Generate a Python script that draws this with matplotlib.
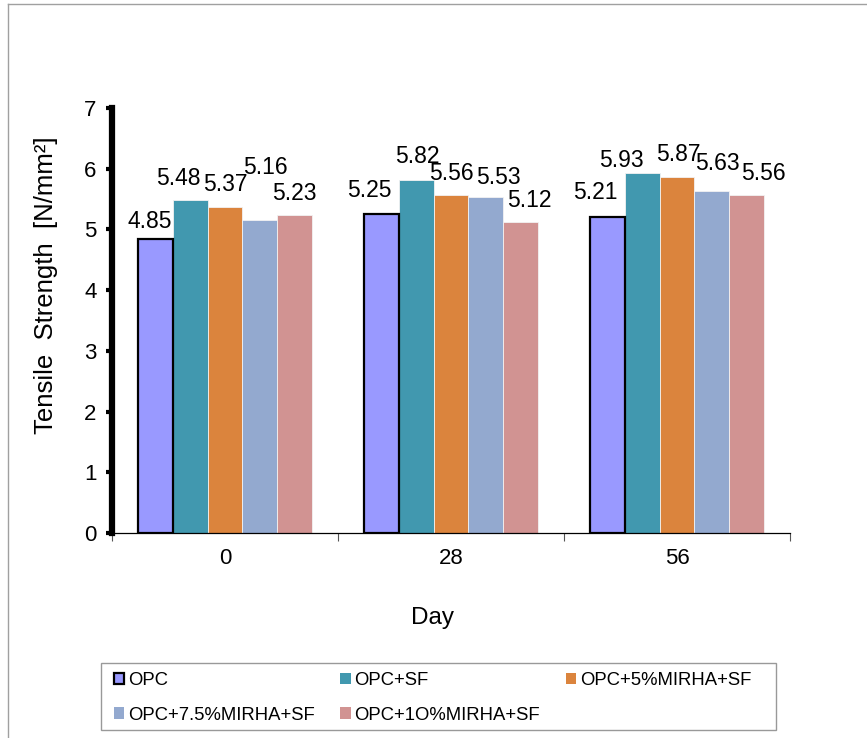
import matplotlib
matplotlib.use("Agg")
import matplotlib.pyplot as plt
from matplotlib.patches import Patch, Rectangle
from matplotlib.lines import Line2D
import numpy as np

plt.rcParams["font.family"] = ["Liberation Sans", "DejaVu Sans"]

days = ["0", "28", "56"]
mixes = ["OPC", "OPC+SF", "OPC+5%MIRHA+SF", "OPC+7.5%MIRHA+SF", "OPC+1O%MIRHA+SF"]
opc = [4.85, 5.25, 5.21]
opc_sf = [5.48, 5.82, 5.93]
mirha5 = [5.37, 5.56, 5.87]
mirha75 = [5.16, 5.53, 5.63]
mirha10 = [5.23, 5.12, 5.56]

colors = ["#9999FF", "#4198AF", "#DB843D", "#93A9CF", "#D19392"]

# hand-tuned label nudges (pixels) so the value labels don't collide
label_nudge = [
    [(-5, 17), (-12, 24), (-12, 24)],
    [(-12, 22), (1, 23), (-21, 12)],
    [(0, 22), (0, 22), (1, 22)],
    [(5, 52), (12, 20), (5, 28)],
    [(0, 22), (9, 22), (17, 22)],
]

series = [opc, opc_sf, mirha5, mirha75, mirha10]

fig = plt.figure(figsize=(8.67, 7.38), dpi=100)
ax = fig.add_axes([112 / 867, 205 / 738, 678 / 867, 425 / 738])

x = np.arange(len(days))
w = 0.1545
for i, vals in enumerate(series):
    xpos = x + (i - 2) * w
    if i == 0:
        ax.bar(xpos, vals, w, color=colors[i], edgecolor="black", linewidth=1.6, zorder=3)
    else:
        ax.bar(xpos, vals, w, color=colors[i], edgecolor="#f2f2f2", linewidth=0.6, zorder=2)
    for j, v in enumerate(vals):
        dx, dy = label_nudge[i][j]
        ax.annotate(f"{v:.2f}", (xpos[j], v), xytext=(dx, dy), textcoords="offset pixels",
                    ha="center", va="center", fontsize=16.5)

ax.set_xlim(-0.5, 2.5)
ax.set_ylim(0, 7)
ax.set_yticks(range(8))
ax.set_xticks(x)
ax.set_xticklabels(days)
ax.set_xticks([-0.5, 0.5, 1.5, 2.5], minor=True)
ax.tick_params(axis="x", which="major", length=0, pad=11, labelsize=16)
ax.tick_params(axis="x", which="minor", length=6, width=0.8, color="#555555", direction="out")
ax.tick_params(axis="y", length=4, width=3, pad=7, labelsize=16)

for s in ["top", "right"]:
    ax.spines[s].set_visible(False)
ax.spines["left"].set_linewidth(4.5)
ax.spines["bottom"].set_linewidth(0.9)

ax.set_ylabel("Tensile  Strength  [N/mm\u00b2]", fontsize=18.5)
ax.yaxis.set_label_coords(-0.080, 0.584)
ax.set_xlabel("Day", fontsize=17.5)
ax.xaxis.set_label_coords(0.472, -0.174)

# legend without its own frame; the box is drawn separately so it can be wider.
# entries are passed column by column so they read row by row.
handles = [Patch(facecolor=colors[0], edgecolor="black", linewidth=1.6)]
handles += [Patch(facecolor=c, edgecolor="none") for c in colors[1:]]
order = [0, 3, 1, 4, 2]
fig.legend([handles[k] for k in order], [mixes[k] for k in order],
           loc="upper left", bbox_to_anchor=(114 / 867, 1 - 672 / 738),
           ncol=3, frameon=False, fontsize=13.3, borderpad=0, borderaxespad=0,
           handlelength=0.55, handleheight=0.55, handletextpad=0.2,
           labelspacing=0.95, columnspacing=1.4)
fig.add_artist(Rectangle((101 / 867, 1 - 730 / 738), 675 / 867, 67 / 738,
                         transform=fig.transFigure, fill=False, edgecolor="#999999", linewidth=1))

# outer chart border (left and top edges)
fig.add_artist(Line2D([8 / 867, 8 / 867], [0, 1 - 4 / 738], transform=fig.transFigure,
                      color="#a0a0a0", linewidth=1))
fig.add_artist(Line2D([8 / 867, 1], [1 - 4 / 738, 1 - 4 / 738], transform=fig.transFigure,
                      color="#a0a0a0", linewidth=1))

fig.savefig("out.png", dpi=100)
